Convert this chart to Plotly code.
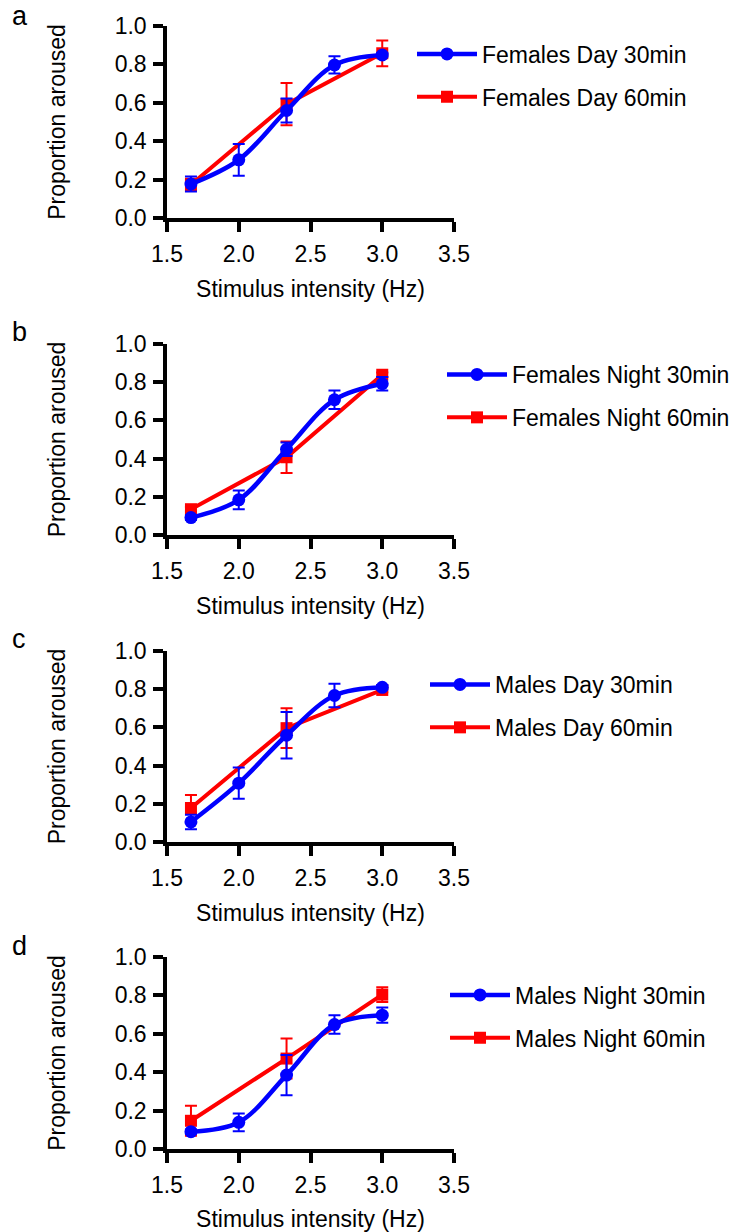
import plotly.graph_objects as go

FONT = "Liberation Sans, Arial, sans-serif"
W, H = 729, 1232

# stimulus intensities
x_blue = [1.667, 2.0, 2.333, 2.667, 3.0]
x_red = [1.667, 2.333, 3.0]

panel_letters = ["a", "b", "c", "d"]
names_30 = ["Females Day 30min", "Females Night 30min", "Males Day 30min", "Males Night 30min"]
names_60 = ["Females Day 60min", "Females Night 60min", "Males Day 60min", "Males Night 60min"]

# 30 min (blue) means and errors
blue_a = [0.177, 0.303, 0.560, 0.797, 0.849]
blue_a_err = [0.039, 0.083, 0.063, 0.045, 0.012]
blue_b = [0.091, 0.184, 0.449, 0.708, 0.792]
blue_b_err = [0.012, 0.049, 0.035, 0.048, 0.035]
blue_c = [0.105, 0.308, 0.559, 0.767, 0.810]
blue_c_err = [0.038, 0.082, 0.122, 0.061, 0.012]
blue_d = [0.090, 0.139, 0.385, 0.648, 0.697]
blue_d_err = [0.012, 0.046, 0.105, 0.048, 0.040]

# 60 min (red) means and errors
red_a = [0.173, 0.593, 0.858]
red_a_err = [0.031, 0.110, 0.067]
red_b = [0.135, 0.407, 0.839]
red_b_err = [0.012, 0.083, 0.012]
red_c = [0.178, 0.596, 0.796]
red_c_err = [0.068, 0.104, 0.012]
red_d = [0.147, 0.471, 0.804]
red_d_err = [0.078, 0.104, 0.039]

blues = [blue_a, blue_b, blue_c, blue_d]
blue_errs = [blue_a_err, blue_b_err, blue_c_err, blue_d_err]
reds = [red_a, red_b, red_c, red_d]
red_errs = [red_a_err, red_b_err, red_c_err, red_d_err]

x_ticks = [1.5, 2.0, 2.5, 3.0, 3.5]
y_ticks = [0.0, 0.2, 0.4, 0.6, 0.8, 1.0]

# layout geometry in pixels (top, bottom of plotting area)
panel_px = [(26, 218), (344, 535), (651, 842), (957, 1149)]
x_px = (167, 454)
legend_px = [(412, 75.5), (442, 396), (425, 706), (445, 1016.5)]
letter_px = [16, 332, 639, 946]

BLUE = "#0000ff"
RED = "#ff0000"
FS = 23

fig = go.Figure()
layout = dict(
    width=W, height=H,
    margin=dict(l=0, r=0, t=0, b=0, autoexpand=False),
    paper_bgcolor="white", plot_bgcolor="white",
    font=dict(family=FONT, size=FS, color="black"),
    showlegend=True,
    annotations=[],
)

for i in range(4):
    sfx = "" if i == 0 else str(i + 1)
    xa, ya = "x" + sfx, "y" + sfx
    leg = "legend" + sfx
    fig.add_trace(go.Scatter(
        x=x_red, y=reds[i], name=names_60[i], mode="lines+markers",
        xaxis=xa, yaxis=ya, legend=leg, legendgroup="r%d" % i, legendrank=2,
        line=dict(color=RED, width=4),
        marker=dict(symbol="square", size=12, color=RED),
        error_y=dict(type="data", array=red_errs[i], color=RED, thickness=2, width=6),
    ))
    fig.add_trace(go.Scatter(
        x=x_blue, y=blues[i], name=names_30[i], mode="lines+markers",
        xaxis=xa, yaxis=ya, legend=leg, legendgroup="b%d" % i, legendrank=1,
        line=dict(color=BLUE, width=4.5, shape="spline", smoothing=1.0),
        marker=dict(symbol="circle", size=13, color=BLUE),
        error_y=dict(type="data", array=blue_errs[i], color=BLUE, thickness=2, width=6),
    ))
    top, bot = panel_px[i]
    common = dict(showline=True, linewidth=3.5, linecolor="black", ticks="outside",
                  ticklen=10, tickwidth=3.5, tickcolor="black", showgrid=False,
                  zeroline=False, tickfont=dict(size=FS, family=FONT))
    layout["xaxis" + sfx] = dict(
        domain=[x_px[0] / W, x_px[1] / W], range=[1.5, 3.5], anchor=ya,
        tickvals=x_ticks, ticktext=["%.1f" % v for v in x_ticks],
        ticklabelstandoff=3,
        title=dict(text="Stimulus intensity (Hz)", font=dict(size=FS, family=FONT), standoff=16),
        **common)
    layout["yaxis" + sfx] = dict(
        domain=[1 - bot / H, 1 - top / H], range=[0, 1.0], anchor=xa,
        tickvals=y_ticks, ticktext=["%.1f" % v for v in y_ticks],
        ticklabelstandoff=2,
        title=dict(text="Proportion aroused", font=dict(size=FS, family=FONT), standoff=44),
        **common)
    lx, ly = legend_px[i]
    layout[leg] = dict(x=lx / W, y=1 - ly / H, xanchor="left", yanchor="middle",
                       xref="paper", yref="paper",
                       bgcolor="rgba(0,0,0,0)", borderwidth=0,
                       font=dict(size=FS, family=FONT), tracegroupgap=10,
                       traceorder="grouped", itemwidth=60)
    layout["annotations"].append(dict(
        text=panel_letters[i], x=10 / W, y=1 - letter_px[i] / H, xref="paper", yref="paper",
        xanchor="left", yanchor="middle", showarrow=False, font=dict(size=27, family=FONT)))

fig.update_layout(**layout)
fig.write_html("out.html")
